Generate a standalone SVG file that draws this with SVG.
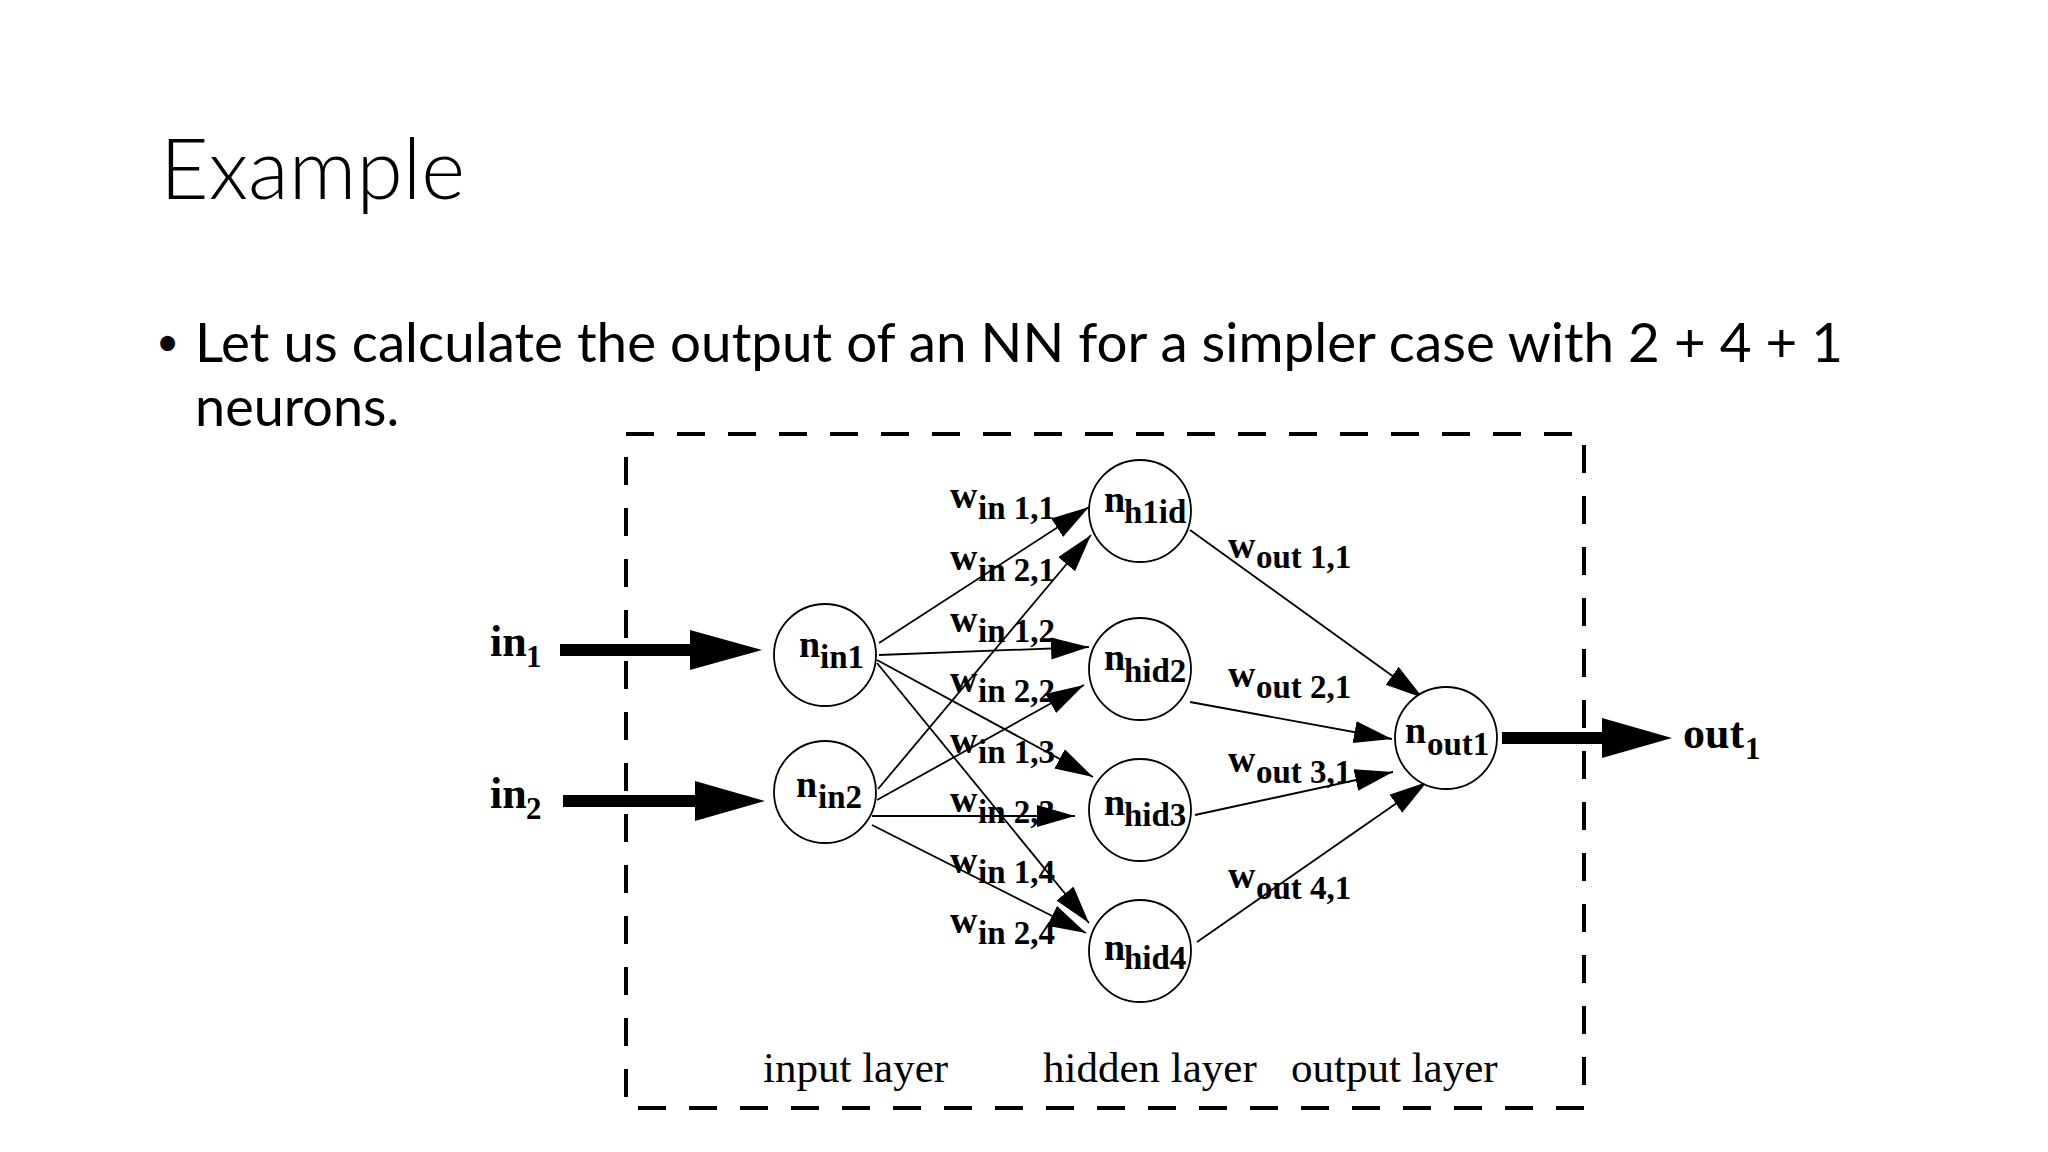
<svg xmlns="http://www.w3.org/2000/svg" width="2048" height="1152" viewBox="0 0 2048 1152">
<style>
.title{font-family:Lato,"Open Sans",sans-serif;font-weight:300;font-size:84px;fill:#000}
.body{font-family:Lato,"Open Sans",sans-serif;font-size:54px;fill:#000}
.bullet{font-family:Lato,"Open Sans",sans-serif;font-size:40px;fill:#000}
.node circle{fill:#fff;stroke:#000;stroke-width:1.8}
.lbl{font-family:"Liberation Serif","Times New Roman",serif;font-weight:bold;font-size:38px;fill:#000}
.sub{font-size:33px}
.io{font-family:"Liberation Serif","Times New Roman",serif;font-weight:bold;font-size:44px;fill:#000}
.iosub{font-size:31px}
.layer{font-family:"Liberation Serif","Times New Roman",serif;font-size:43px;fill:#000}
.edge{stroke:#000;stroke-width:1.8;fill:none;marker-end:url(#ah)}
.thick{stroke:#000;stroke-width:12}
.frame{fill:none;stroke:#000;stroke-width:4;stroke-dasharray:28 23}
</style>
<defs>
<marker id="ah" markerUnits="userSpaceOnUse" markerWidth="40" markerHeight="24" refX="38" refY="11" orient="auto">
<path d="M0,0 L38,11 L0,22 z" fill="#000"/>
</marker>
</defs>
<rect width="2048" height="1152" fill="#fff"/>
<text class="title" x="160" y="199">Example</text>
<text class="bullet" x="156" y="356">•</text>
<text class="body" x="195" y="362" textLength="1648" lengthAdjust="spacingAndGlyphs">Let us calculate the output of an NN for a simpler case with 2 + 4 + 1</text>
<text class="body" x="195" y="426">neurons.</text>
<rect class="frame" x="626" y="434" width="958" height="674"/>
<g id="connectors">
<line class="edge" x1="879" y1="643" x2="1089" y2="507"/>
<line class="edge" x1="879" y1="655" x2="1089" y2="647"/>
<line class="edge" x1="877" y1="660" x2="1093" y2="777"/>
<line class="edge" x1="877" y1="663" x2="1089" y2="923"/>
<line class="edge" x1="878" y1="789" x2="1091" y2="535"/>
<line class="edge" x1="877" y1="800" x2="1084" y2="685"/>
<line class="edge" x1="872" y1="816" x2="1075" y2="816"/>
<line class="edge" x1="872" y1="825" x2="1086" y2="933"/>
<line class="edge" x1="1190" y1="530" x2="1423" y2="698"/>
<line class="edge" x1="1190" y1="702" x2="1392" y2="739"/>
<line class="edge" x1="1195" y1="815" x2="1393" y2="772"/>
<line class="edge" x1="1197" y1="942" x2="1427" y2="782"/>
<line class="thick" x1="560" y1="650" x2="694" y2="650"/>
<polygon points="690,630 762,650 690,670" fill="#000"/>
<line class="thick" x1="563" y1="801" x2="699" y2="801"/>
<polygon points="695,781 765,801 695,821" fill="#000"/>
<line class="thick" x1="1502" y1="738" x2="1606" y2="738"/>
<polygon points="1602,718 1672,738 1602,758" fill="#000"/>
</g>
<g id="in1"><text class="io" x="490" y="656">in<tspan class="iosub" x="526" y="667">1</tspan></text></g>
<g id="in2"><text class="io" x="490" y="808">in<tspan class="iosub" x="526" y="819">2</tspan></text></g>
<g id="out1"><text class="io" x="1683" y="748">out<tspan class="iosub" x="1745" y="759">1</tspan></text></g>
<g id="nin1" class="node"><circle cx="825" cy="655" r="51"/><text class="lbl" x="799" y="657">n<tspan class="sub" x="820" y="668">in1</tspan></text></g>
<g id="nin2" class="node"><circle cx="825" cy="792" r="51"/><text class="lbl" x="796" y="797">n<tspan class="sub" x="818" y="808">in2</tspan></text></g>
<g id="nh1id" class="node"><circle cx="1140" cy="511" r="51"/><text class="lbl" x="1104" y="512">n<tspan class="sub" x="1124" y="523">h1id</tspan></text></g>
<g id="nhid2" class="node"><circle cx="1140" cy="669" r="51"/><text class="lbl" x="1104" y="670">n<tspan class="sub" x="1124" y="682">hid2</tspan></text></g>
<g id="nhid3" class="node"><circle cx="1140" cy="810" r="51"/><text class="lbl" x="1104" y="815">n<tspan class="sub" x="1124" y="826">hid3</tspan></text></g>
<g id="nhid4" class="node"><circle cx="1140" cy="951" r="51"/><text class="lbl" x="1104" y="960">n<tspan class="sub" x="1124" y="969">hid4</tspan></text></g>
<g id="nout1" class="node"><circle cx="1446" cy="738" r="51"/><text class="lbl" x="1405" y="743">n<tspan class="sub" x="1427" y="755">out1</tspan></text></g>
<g id="weights">
<text class="lbl" x="950" y="508">w<tspan class="sub" x="978" y="519">in 1,1</tspan></text>
<text class="lbl" x="950" y="570">w<tspan class="sub" x="978" y="581">in 2,1</tspan></text>
<text class="lbl" x="950" y="632">w<tspan class="sub" x="978" y="642">in 1,2</tspan></text>
<text class="lbl" x="950" y="692">w<tspan class="sub" x="978" y="702">in 2,2</tspan></text>
<text class="lbl" x="950" y="753">w<tspan class="sub" x="978" y="763">in 1,3</tspan></text>
<text class="lbl" x="950" y="812">w<tspan class="sub" x="978" y="823">in 2,3</tspan></text>
<text class="lbl" x="950" y="873">w<tspan class="sub" x="978" y="883">in 1,4</tspan></text>
<text class="lbl" x="950" y="933">w<tspan class="sub" x="978" y="944">in 2,4</tspan></text>
<text class="lbl" x="1228" y="558">w<tspan class="sub" x="1256" y="568">out 1,1</tspan></text>
<text class="lbl" x="1228" y="687">w<tspan class="sub" x="1256" y="698">out 2,1</tspan></text>
<text class="lbl" x="1228" y="772">w<tspan class="sub" x="1256" y="783">out 3,1</tspan></text>
<text class="lbl" x="1228" y="888">w<tspan class="sub" x="1256" y="899">out 4,1</tspan></text>
</g>
<g id="layers">
<text class="layer" x="763" y="1082">input layer</text>
<text class="layer" x="1043" y="1082">hidden layer</text>
<text class="layer" x="1291" y="1082">output layer</text>
</g>
</svg>
